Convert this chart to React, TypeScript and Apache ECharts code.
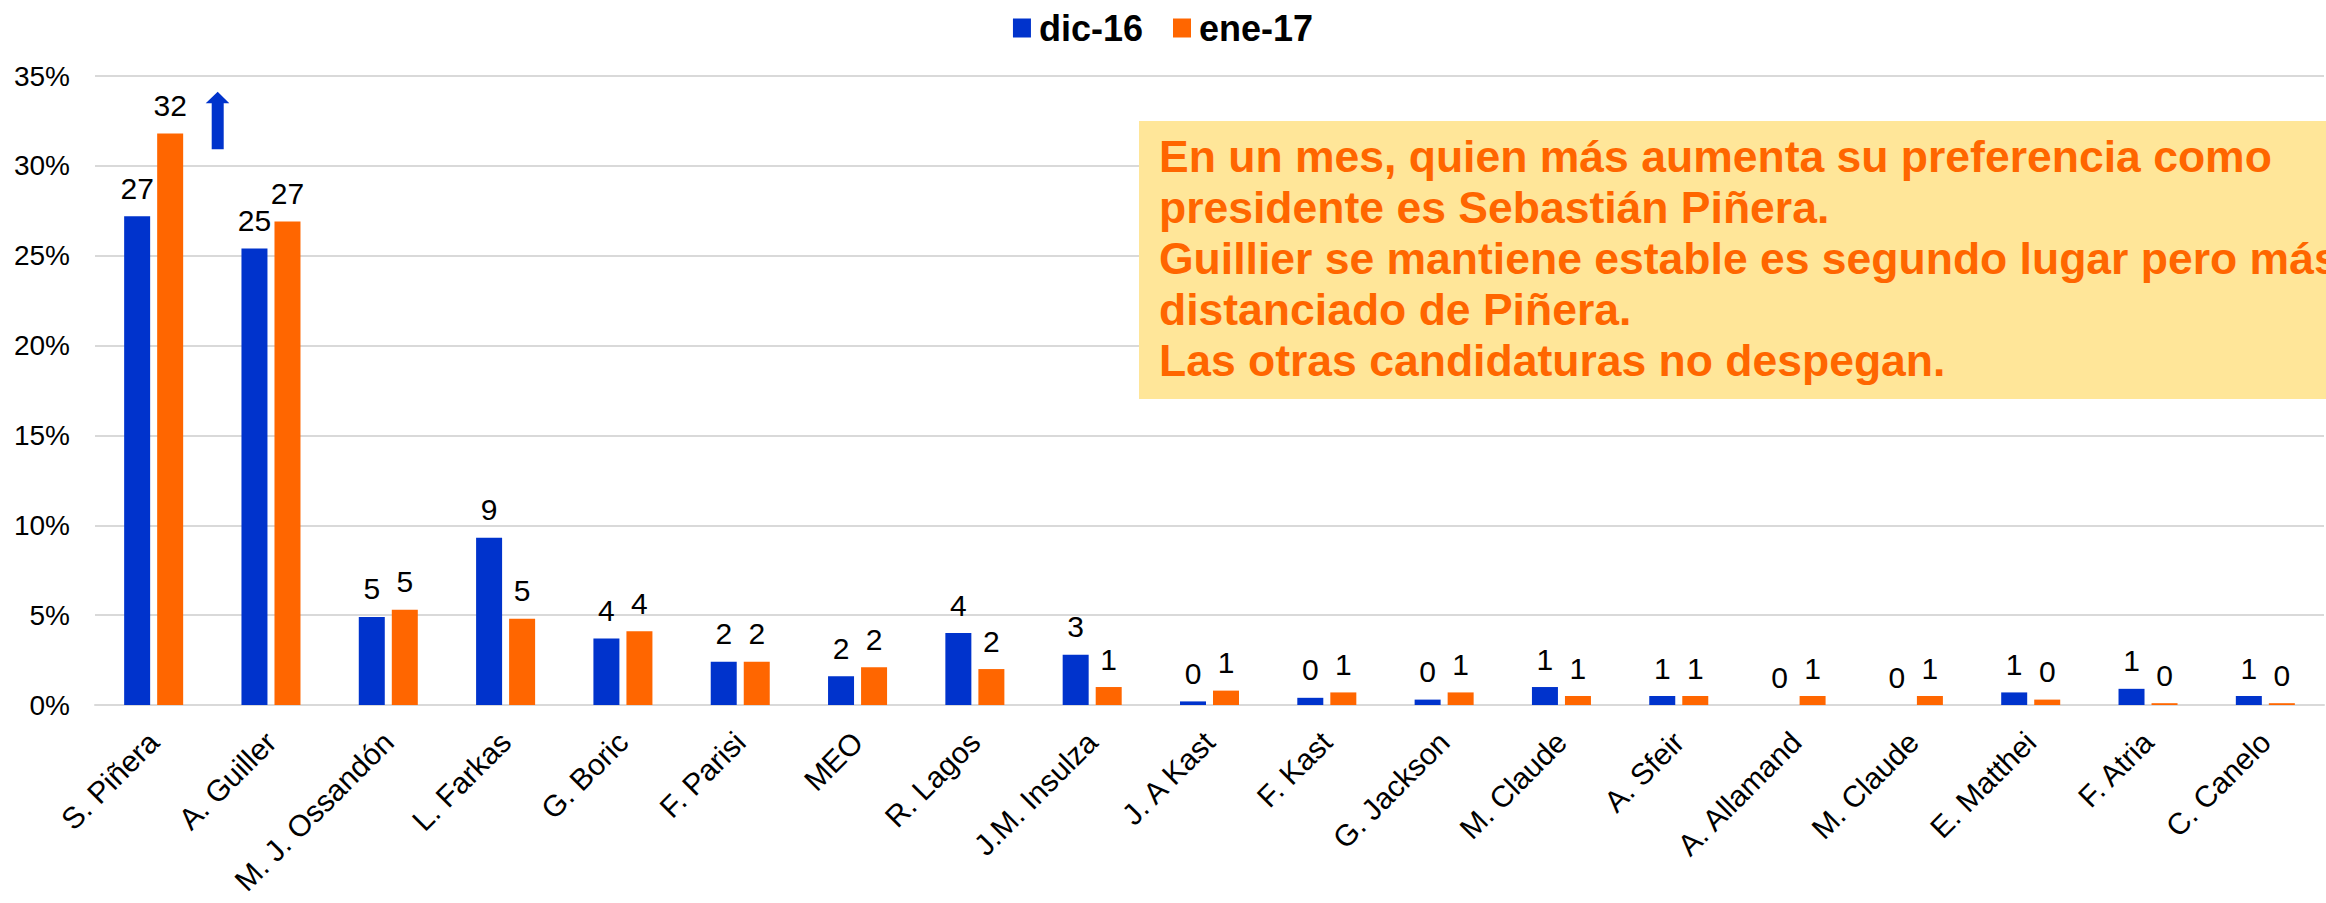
import React, { useEffect, useRef } from "react";
import * as echarts from "echarts";

const categories = [
  "S. Piñera", "A. Guiller", "M. J. Ossandón", "L. Farkas", "G. Boric", "F. Parisi", "MEO",
  "R. Lagos", "J.M. Insulza", "J. A Kast", "F. Kast", "G. Jackson", "M. Claude", "A. Sfeir",
  "A. Allamand", "M. Claude", "E. Matthei", "F. Atria", "C. Canelo",
];
const dic16 = [27.2, 25.4, 4.9, 9.3, 3.7, 2.4, 1.6, 4.0, 2.8, 0.2, 0.4, 0.3, 1.0, 0.5, 0, 0, 0.7, 0.9, 0.5];
const ene17 = [31.8, 26.9, 5.3, 4.8, 4.1, 2.4, 2.1, 2.0, 1.0, 0.8, 0.7, 0.7, 0.5, 0.5, 0.5, 0.5, 0.3, 0.1, 0.1];
const seriesNames = ["dic-16", "ene-17"];
const noteLines = [
  "En un mes, quien más aumenta su preferencia como",
  "presidente es Sebastián Piñera.",
  "Guillier se mantiene estable es segundo lugar pero más",
  "distanciado de Piñera.",
  "Las otras candidaturas no despegan.",
];

const FONT = '"Liberation Sans", Arial, sans-serif';
const BLUE = "#0033CC";
const ORANGE = "#FF6600";

export default function App() {
  const ref = useRef<HTMLDivElement>(null);
  useEffect(() => {
    if (!ref.current) return;
    const chart = echarts.init(ref.current, null, { renderer: "svg" });
    const label = {
      show: true,
      position: "top",
      distance: 13,
      fontSize: 30,
      color: "#000",
      fontFamily: FONT,
      formatter: (p: any) => String(Math.round(p.value)),
    };
    chart.setOption({
      animation: false,
      backgroundColor: "#fff",
      textStyle: { fontFamily: FONT },
      legend: {
        data: seriesNames,
        top: 5,
        left: "center",
        icon: "rect",
        itemWidth: 18,
        itemHeight: 19,
        itemGap: 30,
        textStyle: { fontSize: 36, fontWeight: "bold", color: "#000", fontFamily: FONT, padding: [0, 0, 0, 3] },
      },
      grid: { left: 95, right: 2, top: 76, bottom: 198, containLabel: false, outerBoundsMode: "none" },
      xAxis: {
        type: "category",
        data: categories,
        axisLine: { show: true, lineStyle: { color: "#D9D9D9", width: 2 } },
        axisTick: { show: false },
        axisLabel: {
          interval: 0,
          rotate: 45,
          margin: 32,
          fontSize: 30,
          color: "#000",
          fontFamily: FONT,
        },
      },
      yAxis: {
        type: "value",
        min: 0,
        max: 35,
        interval: 5,
        axisLine: { show: false },
        axisTick: { show: false },
        axisLabel: { formatter: "{value}%", fontSize: 28, color: "#000", margin: 25, fontFamily: FONT },
        splitLine: { lineStyle: { color: "#D9D9D9", width: 2 } },
      },
      series: [
        {
          name: seriesNames[0],
          type: "bar",
          data: dic16,
          barWidth: 26,
          barGap: "27%",
          itemStyle: { color: BLUE },
          label,
        },
        {
          name: seriesNames[1],
          type: "bar",
          data: ene17,
          barWidth: 26,
          barGap: "27%",
          itemStyle: { color: ORANGE },
          label,
        },
      ],
      graphic: [
        {
          type: "polygon",
          z: 100,
          shape: {
            points: [
              [217.7, 91.7], [229.3, 103.3], [223.7, 103.3], [223.7, 149.3],
              [211.7, 149.3], [211.7, 103.3], [205.7, 103.3],
            ],
          },
          style: { fill: BLUE },
        },
        {
          type: "rect",
          z: 100,
          shape: { x: 1139, y: 121, width: 1200, height: 278 },
          style: { fill: "#FFE699" },
        },
        {
          type: "text",
          z: 101,
          x: 1159,
          y: 131,
          style: {
            text: noteLines.join("\n"),
            fill: ORANGE,
            font: `bold 44.5px ${FONT}`,
            lineHeight: 51,
            verticalAlign: "top",
            align: "left",
          },
        },
      ],
    });
    return () => chart.dispose();
  }, []);
  return (
    <div
      ref={ref}
      style={{ position: "fixed", left: 0, top: 0, width: 2326, height: 903, background: "#fff" }}
    />
  );
}
